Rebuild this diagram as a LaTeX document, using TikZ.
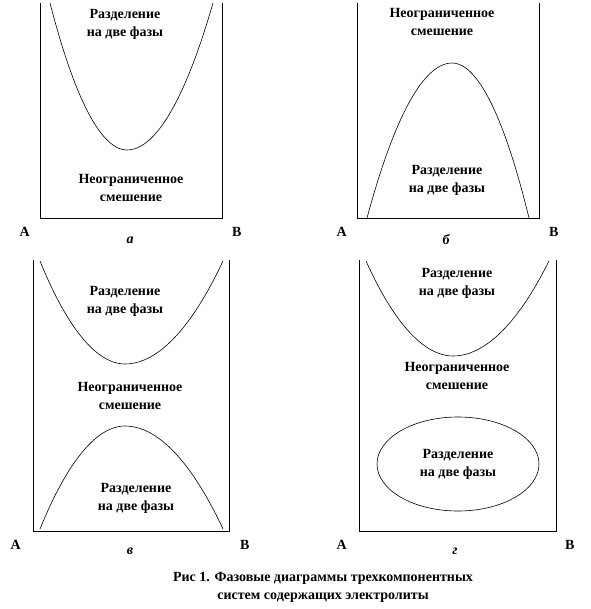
\documentclass[tikz,border=0pt]{standalone}
\usepackage{fontspec}
\setmainfont{Liberation Serif}
\usetikzlibrary{positioning,shapes.geometric}

\begin{document}
\begin{tikzpicture}[
    x=1pt, y=-1pt,
    font=\fontsize{14}{18}\selectfont\bfseries,
    region/.style={align=center, inner sep=0pt},
    corner/.style={inner sep=0pt},
    panel/.style={inner sep=0pt, font=\fontsize{14}{18}\selectfont\bfseries\itshape},
    frame/.style={line width=0.8pt},
    curve/.style={line width=0.6pt},
]
\useasboundingbox (0,0) rectangle (590,609);

% frames (open at the top)
\coordinate (a-bl) at (40,218);  \coordinate (a-br) at (222,218);
\coordinate (b-bl) at (357,218); \coordinate (b-br) at (539,218);
\coordinate (c-bl) at (33,531);  \coordinate (c-br) at (229,531);
\coordinate (d-bl) at (359,531); \coordinate (d-br) at (556,531);
\draw[frame] (40,3) -- (a-bl) -- (a-br) -- (222,3);
\draw[frame] (357,3) -- (b-bl) -- (b-br) -- (539,3);
\draw[frame] (33,260) -- (c-bl) -- (c-br) -- (229,260);
\draw[frame] (359,260) -- (d-bl) -- (d-br) -- (556,260);

% corner labels
\node[corner, below left=9pt and 10pt of a-bl]  (a-A) {А};
\node[corner, below right=9pt and 10pt of a-br] (a-B) {В};
\node[corner, below left=9pt and 10pt of b-bl]  (b-A) {А};
\node[corner, below right=9pt and 10pt of b-br] (b-B) {В};
\node[corner, below left=9pt and 12pt of c-bl]  (c-A) {А};
\node[corner, below right=9pt and 11pt of c-br] (c-B) {В};
\node[corner, below left=9pt and 12pt of d-bl]  (d-A) {А};
\node[corner, below right=9pt and 9pt of d-br]  (d-B) {В};

% panel letters
\node[panel] (a-lbl) at (130,240) {а};
\node[panel] (b-lbl) at (446,240) {б};
\node[panel] (c-lbl) at (130,551) {в};
\node[panel] (d-lbl) at (455,551) {г};

% panel a
\draw[curve] (50,3) parabola bend (127,150) (213,3);
\node[region] (a-split) at (125,24)  {Разделение\\на две фазы};
\node[region] (a-mix)   at (131,188) {Неограниченное\\смешение};

% panel b
\draw[curve] (367,218) parabola bend (452,63) (529,218);
\node[region] (b-mix)   at (442,22)  {Неограниченное\\смешение};
\node[region] (b-split) at (447,180) {Разделение\\на две фазы};

% panel c
\draw[curve] (40,261) parabola bend (125,364) (223,261);
\draw[curve] (40,529) parabola bend (125,426) (223,529);
\node[region] (c-split1) at (125,301) {Разделение\\на две фазы};
\node[region] (c-mix)    at (130,396) {Неограниченное\\смешение};
\node[region] (c-split2) at (136,498) {Разделение\\на две фазы};

% panel d
\draw[curve] (366,261) parabola bend (453,356) (549,261);
\node[region] (d-split1) at (457,283) {Разделение\\на две фазы};
\node[region] (d-mix)    at (457,376) {Неограниченное\\смешение};
\node[region, draw, ellipse, line width=0.6pt, minimum width=162pt, minimum height=94pt]
    (d-lens) at (458,464) {Разделение\\на две фазы};

% caption
\node[region] (caption) at (323,587) {Рис 1. Фазовые диаграммы трехкомпонентных\\систем содержащих электролиты};
\end{tikzpicture}
\end{document}
